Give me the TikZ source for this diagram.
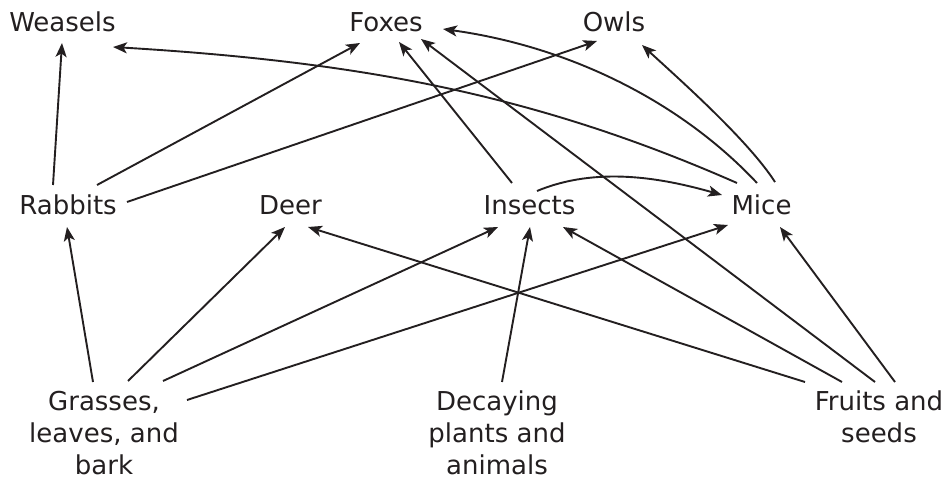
\documentclass[tikz,border=0pt]{standalone}
\usepackage{fontspec}
\setmainfont{DejaVu Sans}
\usetikzlibrary{arrows.meta}
\definecolor{ink}{HTML}{231F20}
\begin{document}
\begin{tikzpicture}[x=1bp,y=-1bp,
  lbl/.style={font=\fontsize{26bp}{32bp}\selectfont, text=ink, inner sep=0pt, anchor=base, align=center},
  arr/.style={draw=ink, line width=1.9bp, -{Stealth[length=14bp,width=11bp,inset=3.5bp]}}]
\useasboundingbox (0,0) rectangle (949,480);
% nodes (base anchor = baseline of last line)
\node[lbl] (weasels) at (62.5,32) {Weasels};
\node[lbl] (foxes) at (386,32) {Foxes};
\node[lbl] (owls) at (614,32) {Owls};
\node[lbl] (rabbits) at (68,215) {Rabbits};
\node[lbl] (deer) at (290.5,215) {Deer};
\node[lbl] (insects) at (529.5,215) {Insects};
\node[lbl] (mice) at (761.5,215) {Mice};
\node[lbl] (grasses) at (104,474) {Grasses,\\leaves, and\\bark};
\node[lbl] (decaying) at (497,474) {Decaying\\plants and\\animals};
\node[lbl] (fruits) at (879,442) {Fruits and\\seeds};
% straight connectors
\draw[arr] ([shift={(-15,-30)}]rabbits.base) -- ([shift={(-0.5,11)}]weasels.base);
\draw[arr] ([shift={(29,-30)}]rabbits.base) -- ([shift={(-26,11)}]foxes.base);
\draw[arr] ([shift={(59,-13)}]rabbits.base) -- ([shift={(-17,9)}]owls.base);
\draw[arr] ([shift={(-17.5,-32)}]insects.base) -- ([shift={(13,10)}]foxes.base);
\draw[arr] ([shift={(-4,-60)}]fruits.base) -- ([shift={(35,7)}]foxes.base);
\draw[arr] ([shift={(-11,-92)}]grasses.base) -- ([shift={(-1,12)}]rabbits.base);
\draw[arr] ([shift={(24,-93)}]grasses.base) -- ([shift={(-5.5,12)}]deer.base);
\draw[arr] ([shift={(59,-93)}]grasses.base) -- ([shift={(-31.5,12)}]insects.base);
\draw[arr] ([shift={(83,-74)}]grasses.base) -- ([shift={(-33.5,10)}]mice.base);
\draw[arr] ([shift={(-74,-60)}]fruits.base) -- ([shift={(17.5,12)}]deer.base);
\draw[arr] ([shift={(5,-92)}]decaying.base) -- ([shift={(0.5,12)}]insects.base);
\draw[arr] ([shift={(-37,-60)}]fruits.base) -- ([shift={(33.5,12)}]insects.base);
\draw[arr] ([shift={(16,-60)}]fruits.base) -- ([shift={(18.5,12)}]mice.base);
% curved connectors
\draw[arr] ([shift={(-24.5,-32)}]mice.base) .. controls (537,95) and (363,62) .. ([shift={(50.5,15)}]weasels.base);
\draw[arr] ([shift={(-4.5,-32)}]mice.base) .. controls (682,103) and (572,47) .. ([shift={(57,-3)}]foxes.base);
\draw[arr] ([shift={(13.5,-33)}]mice.base) .. controls (748,140) and (679,79) .. ([shift={(28,13)}]owls.base);
\draw[arr] ([shift={(7.5,-24)}]insects.base) .. controls (597,166) and (662,178) .. ([shift={(-39.5,-20)}]mice.base);
\end{tikzpicture}
\end{document}
